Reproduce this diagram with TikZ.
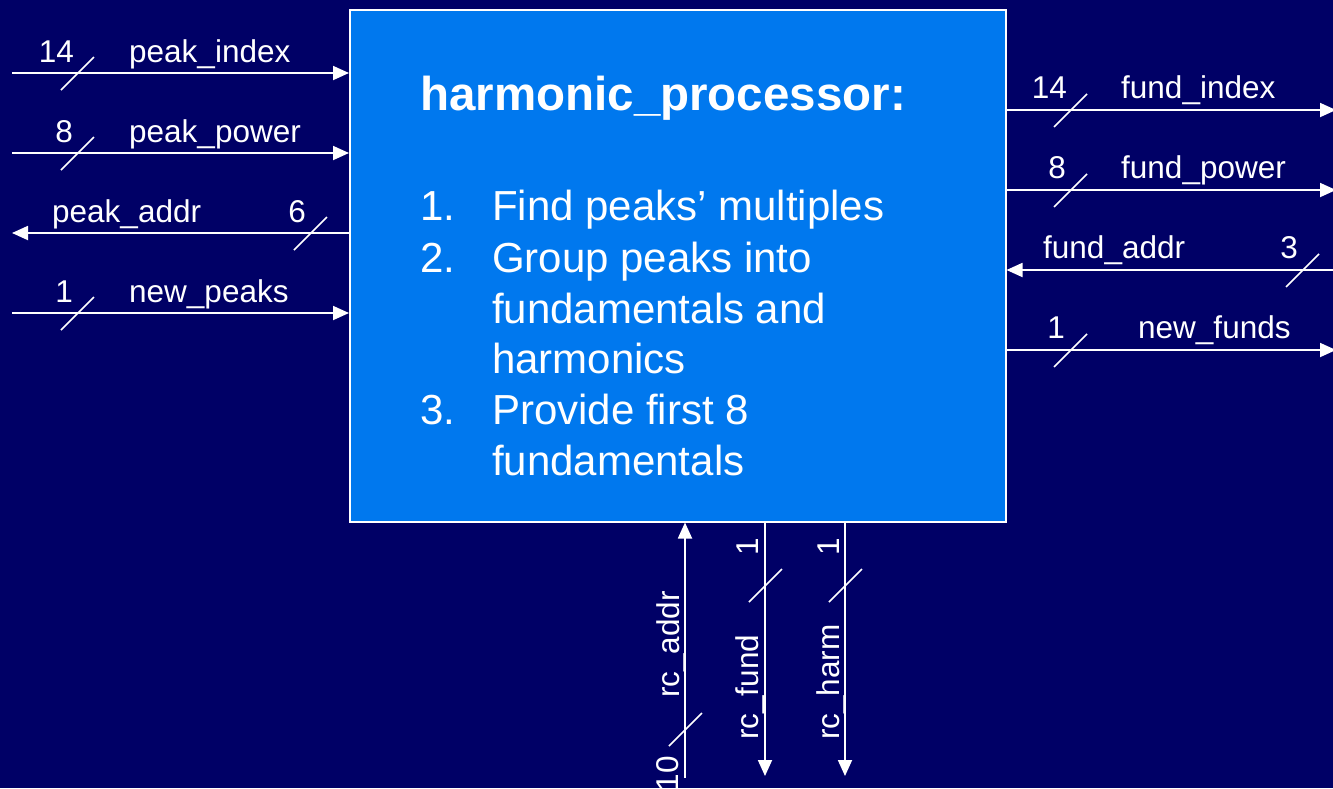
\documentclass[tikz,border=0pt]{standalone}
\usepackage{fontspec}
\setmainfont{Liberation Sans}
\usetikzlibrary{arrows.meta,calc}
\definecolor{navybg}{HTML}{000066}
\definecolor{boxblue}{HTML}{0078EE}

\begin{document}
\begin{tikzpicture}[x=1pt,y=-1pt,>={Triangle[length=16pt,width=14pt]},
  sig/.style={white,line width=1.8pt},
  bus/.style={white,line width=1.6pt},
  lbl/.style={white,inner sep=0pt,font=\fontsize{31.5}{36}\selectfont},
  txt/.style={white,inner sep=0pt,anchor=base west,font=\fontsize{42}{50}\selectfont}]
\fill[navybg] (0,0) rectangle (1333,788);
\useasboundingbox (0,0) rectangle (1333,788);
% the block
\node[draw=white,line width=1.5pt,fill=boxblue,inner sep=0pt,anchor=north west,
  minimum width=656pt,minimum height=512pt] (hp) at (349,9) {};
\node[txt,font=\fontsize{47.5}{56}\selectfont\bfseries] (title) at (420,110) {harmonic\_processor:};
\foreach \n/\y/\t in {1./220/Find peaks’ multiples,2./272/Group peaks into,/323/fundamentals and,
  /373/harmonics,3./424/Provide first 8,/475/fundamentals}{
  \node[txt] at (420,\y) {\n};
  \node[txt] at (492,\y) {\t};
}
% left side
\coordinate (pidx) at (12,73);
\coordinate (ppow) at (12,153);
\coordinate (padr) at (12,233);
\coordinate (pnew) at (12,313);
\draw[sig,->] (pidx) -- (pidx -| hp.west);
\draw[sig,->] (ppow) -- (ppow -| hp.west);
\draw[sig,->] (padr -| hp.west) -- (padr);
\draw[sig,->] (pnew) -- (pnew -| hp.west);
\node[lbl,anchor=base east] at (74,62) {14};
\node[lbl,anchor=base west] at (129,62) {peak\_index};
\node[lbl,anchor=base east] at (73,142) {8};
\node[lbl,anchor=base west] at (129,142) {peak\_power};
\node[lbl,anchor=base west] at (52,222) {peak\_addr};
\node[lbl,anchor=base east] at (306,222) {6};
\node[lbl,anchor=base east] at (73,302) {1};
\node[lbl,anchor=base west] at (129,302) {new\_peaks};
% right side
\coordinate (fidx) at (1336,110);
\coordinate (fpow) at (1336,190);
\coordinate (fadr) at (1340,270);
\coordinate (fnew) at (1336,350);
\draw[sig,->] (fidx -| hp.east) -- (fidx);
\draw[sig,->] (fpow -| hp.east) -- (fpow);
\draw[sig,->] (fadr) -- (fadr -| hp.east);
\draw[sig,->] (fnew -| hp.east) -- (fnew);
\node[lbl,anchor=base east] at (1067,98) {14};
\node[lbl,anchor=base west] at (1121,98) {fund\_index};
\node[lbl,anchor=base east] at (1066,178) {8};
\node[lbl,anchor=base west] at (1121,178) {fund\_power};
\node[lbl,anchor=base west] at (1043,258) {fund\_addr};
\node[lbl,anchor=base east] at (1298,258) {3};
\node[lbl,anchor=base east] at (1065,338) {1};
\node[lbl,anchor=base west] at (1138,338) {new\_funds};
% bottom
\coordinate (radr) at (685,778);
\coordinate (rfnd) at (765,776);
\coordinate (rhrm) at (845,776);
\draw[sig,->] (radr) -- (radr |- hp.south);
\draw[sig,->] (rfnd |- hp.south) -- (rfnd);
\draw[sig,->] (rhrm |- hp.south) -- (rhrm);
\node[lbl,rotate=90,anchor=base west] at (679,698) {rc\_addr};
\node[lbl,rotate=90,anchor=base east] at (678,756) {10};
\node[lbl,rotate=90,anchor=base west] at (758,740) {rc\_fund};
\node[lbl,rotate=90,anchor=base east] at (758,538) {1};
\node[lbl,rotate=90,anchor=base west] at (839,740) {rc\_harm};
\node[lbl,rotate=90,anchor=base east] at (839,538) {1};
% bus width marks
\foreach \p in {(77,73),(77,153),(310,233),(77,313),(1070,110),(1070,190),(1302,270),
  (1070,350),(685,729),(765,585),(845,585)}
  \draw[bus] \p ++(-16,17) -- ++(33,-33);
\end{tikzpicture}
\end{document}
